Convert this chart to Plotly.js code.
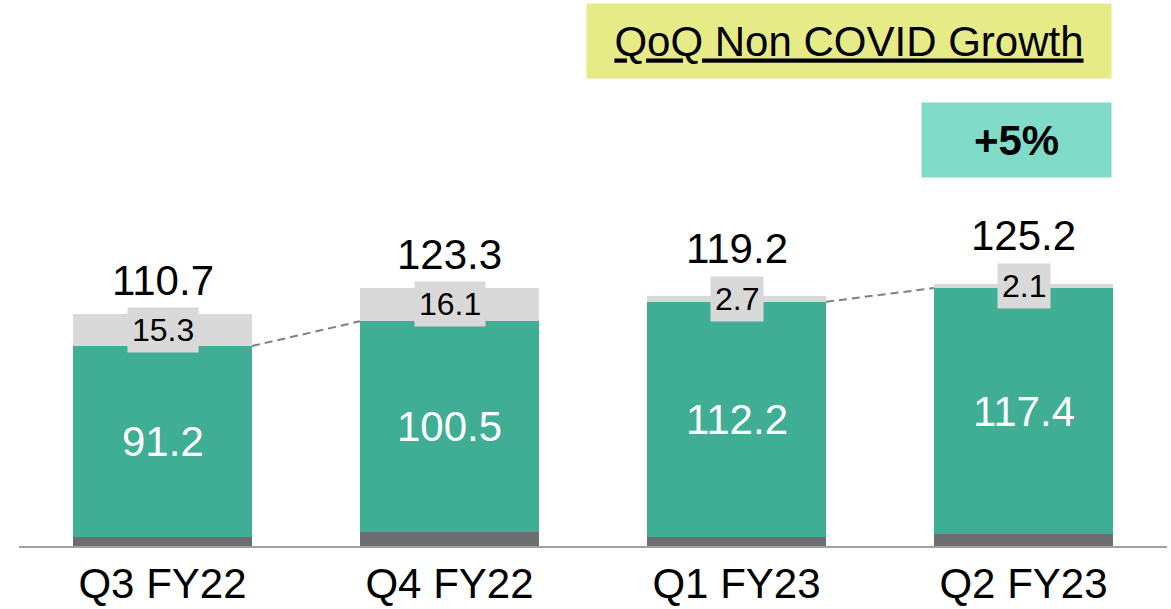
<!DOCTYPE html>
<html>
<head>
<meta charset="utf-8">
<script src="https://cdn.plot.ly/plotly-3.0.1.min.js"></script>
<style>html,body{margin:0;padding:0;background:#fff;}#chart{width:1171px;height:609px;}</style>
</head>
<body>
<div id="chart"></div>
<script>
const categories = ["Q3 FY22", "Q4 FY22", "Q1 FY23", "Q2 FY23"];
const totals = [110.7, 123.3, 119.2, 125.2];
const covid = [15.3, 16.1, 2.7, 2.1];
const nonCovid = [91.2, 100.5, 112.2, 117.4];
const other = totals.map((t, i) => +(t - covid[i] - nonCovid[i]).toFixed(1));
const growthTitle = "QoQ Non COVID Growth";
const growthValue = "+5%";
const dashedPairs = [[0, 1], [2, 3]];

const xs = categories.map((c, i) => i);
const barWidth = 0.624;
const FONT = "Liberation Sans, Arial, sans-serif";

const traces = [
  {type: "bar", x: xs, y: other, width: barWidth, marker: {color: "#6d6e71", line: {width: 0}}, hoverinfo: "none"},
  {type: "bar", x: xs, y: nonCovid, width: barWidth, marker: {color: "#40ae94", line: {width: 0}}, hoverinfo: "none"},
  {type: "bar", x: xs, y: covid, width: barWidth, marker: {color: "#d9d9d9", line: {width: 0}}, hoverinfo: "none"}
];

dashedPairs.forEach(([a, b]) => {
  traces.push({
    type: "scatter", mode: "lines",
    x: [xs[a] + barWidth / 2, xs[b] - barWidth / 2],
    y: [other[a] + nonCovid[a], other[b] + nonCovid[b]],
    line: {color: "#808080", width: 2, dash: "8px,5px"},
    hoverinfo: "none"
  });
});

const annotations = [];
xs.forEach((x, i) => {
  const covidMid = other[i] + nonCovid[i] + covid[i] / 2;
  annotations.push({
    x: x, y: other[i] + nonCovid[i] / 2, xref: "x", yref: "y",
    text: nonCovid[i].toFixed(1), showarrow: false,
    font: {family: FONT, size: 42, color: "#ffffff"}
  });
  annotations.push({
    x: x, y: covidMid, xref: "x", yref: "y",
    text: covid[i].toFixed(1), showarrow: false,
    font: {family: FONT, size: 32, color: "#000000"},
    bgcolor: "#d9d9d9", borderpad: 4
  });
  annotations.push({
    x: x, y: covidMid, xref: "x", yref: "y", yshift: 50,
    text: totals[i].toFixed(1), showarrow: false,
    font: {family: FONT, size: 42, color: "#000000"}
  });
});

const plotL = 19, plotR = 4, plotT = 0, plotB = 63;
const plotW = 1171 - plotL - plotR, plotH = 609 - plotT - plotB;
const px = v => (v - plotL) / plotW;
const py = v => 1 - (v - plotT) / plotH;

annotations.push({
  xref: "paper", yref: "paper", x: px(849), y: py(41),
  xanchor: "center", yanchor: "middle",
  text: "<u>" + growthTitle + "</u>", showarrow: false,
  width: 522, height: 72, bgcolor: "#e6eb88",
  font: {family: FONT, size: 42, color: "#000000"}
});
annotations.push({
  xref: "paper", yref: "paper", x: px(1016.5), y: py(140),
  xanchor: "center", yanchor: "middle",
  text: "<b>" + growthValue + "</b>", showarrow: false,
  width: 187, height: 72, bgcolor: "#80dcc8",
  font: {family: FONT, size: 42, color: "#000000"}
});

const layout = {
  width: 1171, height: 609,
  margin: {l: plotL, r: plotR, t: plotT, b: plotB, pad: 0},
  paper_bgcolor: "#ffffff", plot_bgcolor: "#ffffff",
  barmode: "stack", showlegend: false,
  xaxis: {
    range: [-0.5, 3.5], tickvals: xs, ticktext: categories,
    showgrid: false, zeroline: false, showline: true,
    linecolor: "#a0a0a0", linewidth: 2, ticks: "",
    tickfont: {family: FONT, size: 42, color: "#000000"},
    fixedrange: true
  },
  yaxis: {
    range: [0, 260.5], visible: false, showgrid: false, zeroline: false, fixedrange: true
  },
  annotations: annotations
};

Plotly.newPlot("chart", traces, layout, {displayModeBar: false, staticPlot: true});
</script>
</body>
</html>
